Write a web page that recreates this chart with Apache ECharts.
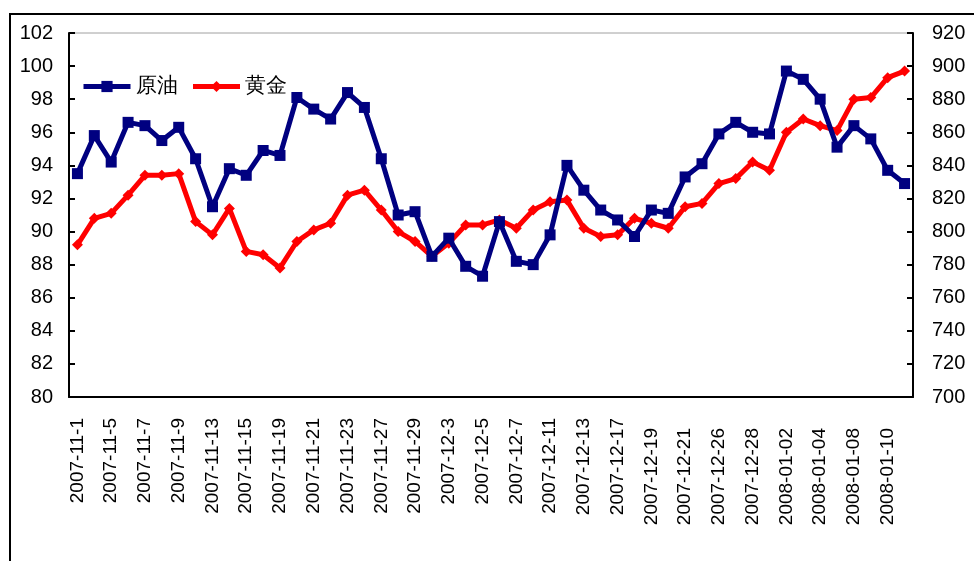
<!DOCTYPE html>
<html>
<head>
<meta charset="utf-8">
<script src="https://cdn.jsdelivr.net/npm/echarts@6/dist/echarts.min.js"></script>
<style>
  html, body { margin: 0; padding: 0; background: #fff; }
  #chart { width: 974px; height: 561px; }
</style>
</head>
<body>
<div id="chart"></div>
<script>
// trading days, only every other one gets a label
var dates = [
  '2007-11-1', '2007-11-2', '2007-11-5', '2007-11-6', '2007-11-7', '2007-11-8', '2007-11-9', '2007-11-12',
  '2007-11-13', '2007-11-14', '2007-11-15', '2007-11-16', '2007-11-19', '2007-11-20', '2007-11-21', '2007-11-22',
  '2007-11-23', '2007-11-26', '2007-11-27', '2007-11-28', '2007-11-29', '2007-11-30', '2007-12-3', '2007-12-4',
  '2007-12-5', '2007-12-6', '2007-12-7', '2007-12-10', '2007-12-11', '2007-12-12', '2007-12-13', '2007-12-14',
  '2007-12-17', '2007-12-18', '2007-12-19', '2007-12-20', '2007-12-21', '2007-12-24', '2007-12-26', '2007-12-27',
  '2007-12-28', '2007-12-31', '2008-01-02', '2008-01-03', '2008-01-04', '2008-01-07', '2008-01-08', '2008-01-09',
  '2008-01-10', '2008-01-11'
];

// 原油 (left axis)
var oil = [
  93.5, 95.8, 94.2, 96.6, 96.4, 95.5, 96.3, 94.4, 91.5, 93.8,
  93.4, 94.9, 94.6, 98.1, 97.4, 96.8, 98.4, 97.5, 94.4, 91.0,
  91.2, 88.5, 89.6, 87.9, 87.3, 90.6, 88.2, 88.0, 89.8, 94.0,
  92.5, 91.3, 90.7, 89.7, 91.3, 91.1, 93.3, 94.1, 95.9, 96.6,
  96.0, 95.9, 99.7, 99.2, 98.0, 95.1, 96.4, 95.6, 93.7, 92.9
];

// 黄金 (right axis)
var gold = [
  792, 808, 811, 822, 834, 834, 835, 806, 798, 814,
  788, 786, 778, 794, 801, 805, 822, 825, 813, 800,
  794, 785, 793, 804, 804, 807, 802, 813, 818, 819,
  802, 797, 798, 808, 805, 802, 815, 817, 829, 832,
  842, 837, 860, 868, 864, 861, 880, 881, 893, 897
];

var leftTicks = { min: 80, max: 102, step: 2 };
var rightTicks = { min: 700, max: 920, step: 20 };

var FONT = '"Liberation Sans", Arial, sans-serif';

function makeChart(dom) {
  // Excel dropped the later labels a little lower
  var cats = dates.map(function (d, i) {
    return i >= 34 ? { value: d, textStyle: { padding: [0, 10, 0, 0] } } : d;
  });

  var option = {
    animation: false,
    backgroundColor: '#fff',
    graphic: [{
      type: 'rect',
      shape: { x: 10, y: 14, width: 1000, height: 600 },
      style: { fill: null, stroke: '#000', lineWidth: 2 },
      silent: true
    }],
    legend: {
      left: 81,
      top: 76,
      padding: 0,
      itemWidth: 47,
      itemHeight: 14,
      itemGap: 13,
      lineStyle: { width: 5 },
      textStyle: { fontFamily: FONT, fontSize: 21, color: '#000' },
      data: ['原油', '黄金']
    },
    grid: {
      left: 69, right: 61, top: 33, bottom: 164,
      show: true, borderColor: '#a0a0a0', borderWidth: 1
    },
    xAxis: {
      type: 'category',
      data: cats,
      boundaryGap: true,
      axisLine: { lineStyle: { color: '#000', width: 2 } },
      axisTick: { inside: true, interval: 0, length: 6, lineStyle: { color: '#000', width: 2 } },
      axisLabel: {
        interval: 1, rotate: 90, margin: 21,
        fontFamily: FONT, fontSize: 19, color: '#000'
      },
      splitLine: { show: false }
    },
    yAxis: [{
      type: 'value',
      min: leftTicks.min, max: leftTicks.max, interval: leftTicks.step,
      axisLine: { show: true, lineStyle: { color: '#000', width: 2 } },
      axisTick: { show: true, inside: true, length: 6, lineStyle: { color: '#000', width: 2 } },
      axisLabel: { margin: 16, fontFamily: FONT, fontSize: 20, color: '#000' },
      splitLine: { show: false }
    }, {
      type: 'value',
      min: rightTicks.min, max: rightTicks.max, interval: rightTicks.step,
      axisLine: { show: true, lineStyle: { color: '#000', width: 2 } },
      axisTick: { show: true, inside: true, length: 6, lineStyle: { color: '#000', width: 2 } },
      axisLabel: { margin: 19, fontFamily: FONT, fontSize: 20, color: '#000' },
      splitLine: { show: false }
    }],
    series: [{
      name: '原油',
      type: 'line',
      data: oil,
      symbol: 'rect',
      symbolSize: 11,
      showAllSymbol: true,
      color: '#000080',
      itemStyle: { color: '#000080' },
      lineStyle: { color: '#000080', width: 5 },
      z: 3
    }, {
      name: '黄金',
      type: 'line',
      yAxisIndex: 1,
      data: gold,
      symbol: 'diamond',
      symbolSize: [11, 11],
      showAllSymbol: true,
      color: '#ff0000',
      itemStyle: { color: '#ff0000' },
      lineStyle: { color: '#ff0000', width: 5 },
      z: 2
    }]
  };

  var myChart = echarts.init(dom);
  myChart.setOption(option);
}

makeChart(document.getElementById('chart'));
</script>
</body>
</html>
